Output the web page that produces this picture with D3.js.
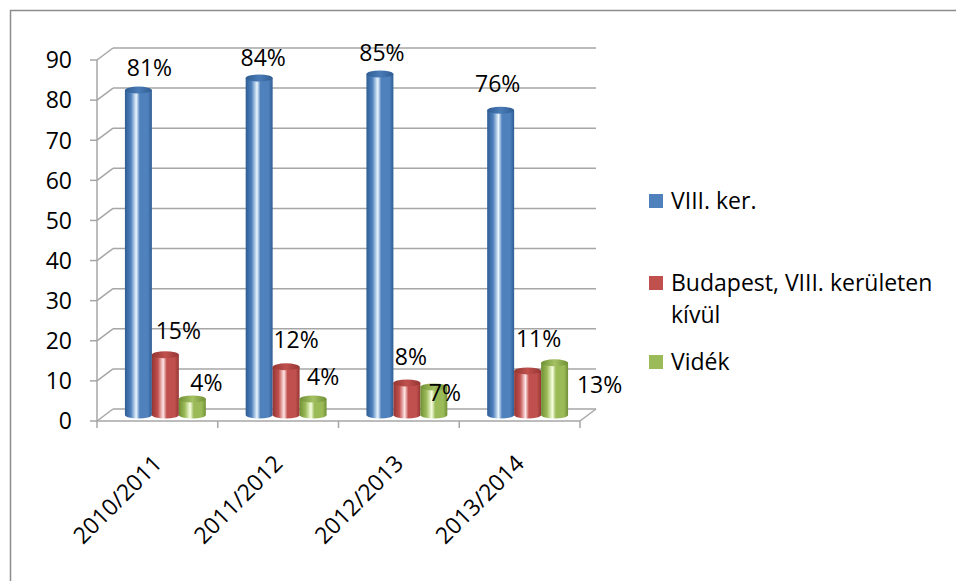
<!DOCTYPE html>
<html>
<head>
<meta charset="utf-8">
<script src="https://cdn.jsdelivr.net/npm/d3@7/dist/d3.min.js"></script>
<style>
  html, body { margin: 0; padding: 0; background: #fff; }
  svg { display: block; font-family: "Open Sans", sans-serif; }
</style>
</head>
<body>
<div id="chart"></div>
<script>
// Data
const categories = ['2010/2011', '2011/2012', '2012/2013', '2013/2014'];
const seriesNames = ['VIII. ker.', 'Budapest, VIII. kerületen kívül', 'Vidék'];
const viii = [81, 84, 85, 76];
const budapest = [15, 12, 8, 11];
const videk = [4, 4, 7, 13];
const yTicks = [0, 10, 20, 30, 40, 50, 60, 70, 80, 90];

// Excel moved some labels around; nudges relative to the bar top (layout only)
const labelNudge = [
  [[11, -22], [13, -24], [14, -16]],
  [[4, -20], [10, -27], [10, -22]],
  [[2, -21], [4, -26], [11, 6]],
  [[-3, -26], [11, -32], [45, 22]]
];

const W = 956, H = 581;
const depth = { dx: 16, dy: -12 };
const colors = [
  { dark: '#2f5d93', mid: '#4f81bd', light: '#eaf6ff', top: '#4a7bb6' },
  { dark: '#943634', mid: '#c0504d', light: '#ffe6e6', top: '#c0504d' },
  { dark: '#6f8f35', mid: '#9bbb59', light: '#f7ffe0', top: '#a4c263' }
];
const values = [viii, budapest, videk];

const svg = d3.select('#chart').append('svg')
  .attr('width', W).attr('height', H);

// outer chart frame (runs off the right/bottom edge)
svg.append('rect')
  .attr('x', 10.5).attr('y', 10.5)
  .attr('width', W + 20).attr('height', H + 20)
  .attr('fill', 'none').attr('stroke', '#8c8c8c').attr('stroke-width', 1.5);

const defs = svg.append('defs');
colors.forEach((c, i) => {
  const g = defs.append('linearGradient').attr('id', 'body' + i)
    .attr('x1', '0%').attr('x2', '100%').attr('y1', '0%').attr('y2', '0%');
  [[0, c.dark], [0.22, c.mid], [0.42, c.light], [0.55, c.mid], [0.85, c.mid], [1, c.dark]]
    .forEach(([o, col]) => g.append('stop').attr('offset', o).attr('stop-color', col));
  const t = defs.append('linearGradient').attr('id', 'top' + i)
    .attr('x1', '0%').attr('x2', '100%');
  [[0, c.dark], [0.5, c.top], [1, c.dark]]
    .forEach(([o, col]) => t.append('stop').attr('offset', o).attr('stop-color', col));
});

const x0 = d3.scaleBand().domain(categories).range([97, 580])
  .paddingInner(0.33).paddingOuter(0.165);
const x1 = d3.scaleBand().domain(d3.range(seriesNames.length)).range([0, x0.bandwidth()]);
const y = d3.scaleLinear().domain([0, 90]).range([421, 60]);

const grid = svg.append('g').attr('stroke', '#a6a6a6').attr('stroke-width', 1.5).attr('fill', 'none');
const xL = x0.range()[0], xR = x0.range()[1];

yTicks.forEach(t => {
  const yy = y(t);
  grid.append('line').attr('x1', xL + depth.dx).attr('x2', xR + depth.dx)
    .attr('y1', yy + depth.dy).attr('y2', yy + depth.dy);
  grid.append('line').attr('x1', xL).attr('y1', yy)
    .attr('x2', xL + depth.dx).attr('y2', yy + depth.dy);
  grid.append('line').attr('x1', xL - 7).attr('x2', xL).attr('y1', yy).attr('y2', yy);
});
grid.append('line').attr('x1', xL).attr('x2', xL).attr('y1', y(0)).attr('y2', y(90));
grid.append('line').attr('x1', xL).attr('x2', xR).attr('y1', y(0)).attr('y2', y(0));
grid.append('line').attr('x1', xR).attr('y1', y(0))
  .attr('x2', xR + depth.dx).attr('y2', y(0) + depth.dy);
d3.range(categories.length + 1).forEach(i => {
  const xx = xL + i * x0.step();
  grid.append('line').attr('x1', xx).attr('x2', xx).attr('y1', y(0)).attr('y2', y(0) + 7);
});

// y axis labels
svg.append('g').selectAll('text').data(yTicks).join('text')
  .attr('x', 72).attr('y', d => y(d)).attr('dy', '0.36em')
  .attr('text-anchor', 'end').attr('font-size', 23).attr('fill', '#000')
  .text(d => d);

// cylinders
const ry = 3.5;
const bars = [];
categories.forEach((cat, ci) => {
  values.forEach((vals, si) => {
    const left = x0(cat) + x1(si) + depth.dx / 2;
    const w = x1.bandwidth();
    bars.push({
      ci, si, v: vals[ci], left, w,
      top: y(vals[ci]) + depth.dy / 2,
      bottom: y(0) + depth.dy / 2
    });
  });
});

const barG = svg.append('g');
bars.forEach(b => {
  const rx = b.w / 2;
  const g = barG.append('g');
  g.append('path')
    .attr('d', `M${b.left},${b.top} L${b.left},${b.bottom} A${rx},${ry} 0 0 0 ${b.left + b.w},${b.bottom} L${b.left + b.w},${b.top} Z`)
    .attr('fill', `url(#body${b.si})`);
  g.append('ellipse')
    .attr('cx', b.left + rx).attr('cy', b.top).attr('rx', rx).attr('ry', ry)
    .attr('fill', `url(#top${b.si})`);
});

// data labels
svg.append('g').selectAll('text').data(bars).join('text')
  .attr('x', d => d.left + d.w / 2 + labelNudge[d.ci][d.si][0])
  .attr('y', d => d.top + labelNudge[d.ci][d.si][1])
  .attr('dy', '0.36em').attr('text-anchor', 'middle')
  .attr('font-size', 23).attr('fill', '#000')
  .text(d => d.v + '%');

// category labels, rotated
svg.append('g').selectAll('text').data(categories).join('text')
  .attr('transform', d => `translate(${x0(d) + x0.bandwidth() / 2 + 6},465) rotate(-45)`)
  .attr('text-anchor', 'end').attr('font-size', 23).attr('fill', '#000')
  .text(d => d);

// legend
const legendRows = [
  { lines: ['VIII. ker.'], y: 201 },
  { lines: ['Budapest, VIII. kerületen', 'kívül'], y: 283 },
  { lines: ['Vidék'], y: 362 }
];
const legend = svg.append('g');
legendRows.forEach((r, i) => {
  legend.append('rect').attr('x', 649).attr('y', r.y - 7).attr('width', 14).attr('height', 14)
    .attr('fill', colors[i].mid);
  const t = legend.append('text').attr('x', 671).attr('y', r.y).attr('dy', '0.36em')
    .attr('font-size', 23).attr('fill', '#000');
  r.lines.forEach((ln, k) => {
    t.append('tspan').attr('x', 671).attr('dy', k === 0 ? '0.36em' : 32).text(ln);
  });
});
</script>
</body>
</html>
